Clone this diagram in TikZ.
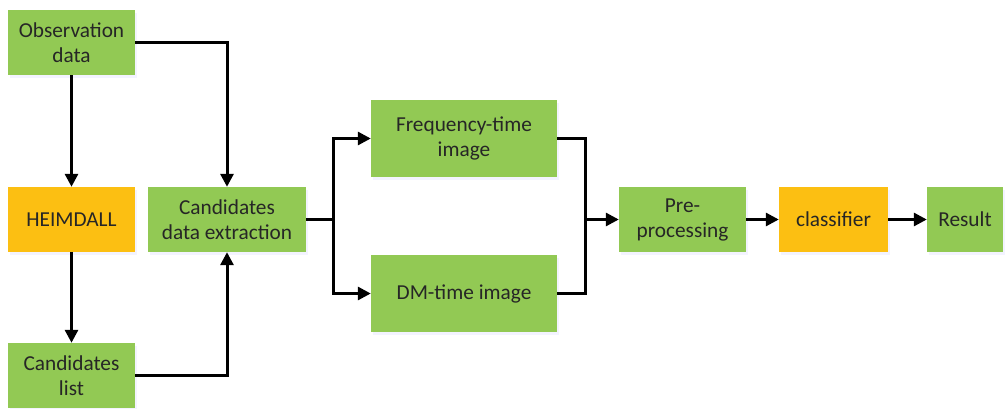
\documentclass[tikz,border=0pt]{standalone}
\usepackage{fontspec}
\setmainfont{Carlito}
\usetikzlibrary{arrows.meta,shadows}
\definecolor{boxgreen}{HTML}{92C954}
\definecolor{boxorange}{HTML}{FCBF12}
\definecolor{txt}{HTML}{262626}
\begin{document}
\begin{tikzpicture}[x=1pt,y=-1pt,
  boxbase/.style={inner sep=0pt, align=center, text=txt,
    font=\fontsize{21.3}{25}\selectfont,
    drop shadow={opacity=0.12, fill=blue!40, shadow xshift=2pt, shadow yshift=-3pt}},
  gbox/.style={boxbase, fill=boxgreen},
  obox/.style={boxbase, fill=boxorange},
  conn/.style={line width=3pt, black, -{Triangle[length=13pt,width=13pt]}},
  plain/.style={line width=3pt, black}]
\useasboundingbox (0,0) rectangle (1006,409);
\node[gbox, minimum width=127pt, minimum height=65pt] (obs) at (71.5,42.5) {Observation\\data};
\node[obox, minimum width=127pt, minimum height=65pt] (heim) at (71.5,219.5) {HEIMDALL};
\node[gbox, minimum width=127pt, minimum height=65pt] (clist) at (71.5,375.5) {Candidates\\list};
\node[gbox, minimum width=158pt, minimum height=65pt] (ext) at (227,219.5) {Candidates\\data extraction};
\node[gbox, minimum width=186pt, minimum height=77pt] (freq) at (464,138.5) {Frequency-time\\image};
\node[gbox, minimum width=186pt, minimum height=77pt] (dm) at (464,293.5) {DM-time image};
\node[gbox, minimum width=127pt, minimum height=65pt] (pre) at (682.5,219.5) {Pre-\\processing};
\node[obox, minimum width=109pt, minimum height=65pt] (cls) at (833.5,219.5) {classifier};
\node[gbox, minimum width=76pt, minimum height=65pt] (res) at (965,219.5) {Result};
\coordinate (jl) at (333,219.5);
\coordinate (jr) at (585,219.5);
\draw[conn] (obs.south) -- (heim.north);
\draw[conn] (heim.south) -- (clist.north);
\draw[conn] (obs.east) -| (ext.north);
\draw[conn] (clist.east) -| (ext.south);
\draw[plain] (ext.east) -- (jl);
\draw[conn] (jl) |- (freq.west);
\draw[conn] (jl) |- (dm.west);
\draw[plain] (freq.east) -| (jr);
\draw[plain] (dm.east) -| (jr);
\draw[conn] (jr) -- (pre.west);
\draw[conn] (pre.east) -- (cls.west);
\draw[conn] (cls.east) -- (res.west);
\end{tikzpicture}
\end{document}
